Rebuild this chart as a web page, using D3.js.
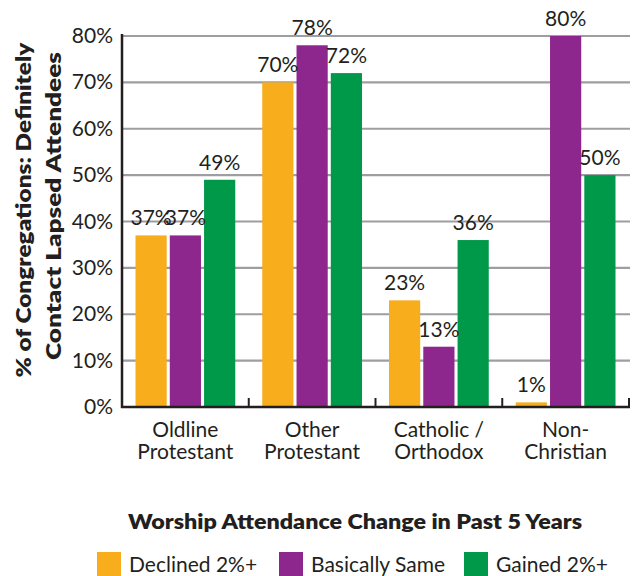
<!DOCTYPE html>
<html>
<head>
<meta charset="utf-8">
<script src="https://cdn.jsdelivr.net/npm/d3@7"></script>
<style>
  body { margin: 0; background: #fff; }
  svg text { font-family: Lato, "Open Sans", sans-serif; fill: #231f20; }
</style>
</head>
<body>
<div id="chart"></div>
<script>
const categories = [['Oldline', 'Protestant'], ['Other', 'Protestant'], ['Catholic /', 'Orthodox'], ['Non-', 'Christian']];
const seriesNames = ['Declined 2%+', 'Basically Same', 'Gained 2%+'];
const declined = [37, 70, 23, 1];
const same = [37, 78, 13, 80];
const gained = [49, 72, 36, 50];
const yTicks = [0, 10, 20, 30, 40, 50, 60, 70, 80];
const colors = ['#f8ad1d', '#8e278d', '#009849'];

const width = 640, height = 576;
const plotLeft = 122, plotRight = 629, plotTop = 36, plotBottom = 407;

const svg = d3.select('#chart').append('svg')
  .attr('width', width)
  .attr('height', height);

const x0 = d3.scaleBand()
  .domain(d3.range(categories.length))
  .range([plotLeft, plotRight])
  .paddingInner(0)
  .paddingOuter(0);

const x1 = d3.scaleBand()
  .domain(d3.range(seriesNames.length))
  .range([13.5, x0.bandwidth() - 13.5])
  .paddingInner(0.09);

const y = d3.scaleLinear()
  .domain([0, 80])
  .range([plotBottom, plotTop]);

// gridlines
svg.append('g')
  .selectAll('line')
  .data(yTicks.slice(1))
  .enter()
  .append('line')
  .attr('x1', plotLeft)
  .attr('x2', plotRight + 1)
  .attr('y1', d => y(d))
  .attr('y2', d => y(d))
  .attr('stroke', '#9d9ea1')
  .attr('stroke-width', 2.2);

// y tick labels
svg.append('g')
  .selectAll('text')
  .data(yTicks)
  .enter()
  .append('text')
  .attr('x', 113)
  .attr('y', d => y(d) + 7)
  .attr('text-anchor', 'end')
  .style('font-size', '21px')
  .text(d => d + '%');

// bars
const series = [declined, same, gained];
const groups = svg.append('g')
  .selectAll('g')
  .data(categories)
  .enter()
  .append('g')
  .attr('transform', (d, i) => 'translate(' + x0(i) + ',0)');

groups.selectAll('rect')
  .data((d, i) => series.map((s, j) => ({ j: j, v: s[i] })))
  .enter()
  .append('rect')
  .attr('x', d => x1(d.j))
  .attr('y', d => y(d.v))
  .attr('width', x1.bandwidth())
  .attr('height', d => plotBottom - y(d.v))
  .attr('fill', d => colors[d.j]);

groups.selectAll('text.val')
  .data((d, i) => series.map((s, j) => ({ j: j, v: s[i] })))
  .enter()
  .append('text')
  .attr('class', 'val')
  .attr('x', d => x1(d.j) + x1.bandwidth() / 2)
  .attr('y', d => y(d.v) - 10)
  .attr('text-anchor', 'middle')
  .style('font-size', '21px')
  .text(d => d.v + '%');

// axes lines
svg.append('line')
  .attr('x1', plotLeft).attr('x2', plotLeft)
  .attr('y1', plotTop - 2).attr('y2', plotBottom + 1)
  .attr('stroke', '#231f20').attr('stroke-width', 2.5);
svg.append('line')
  .attr('x1', plotLeft - 1).attr('x2', plotRight + 1)
  .attr('y1', plotBottom).attr('y2', plotBottom)
  .attr('stroke', '#231f20').attr('stroke-width', 2.5);

// category ticks
svg.append('g')
  .selectAll('line')
  .data(d3.range(1, categories.length + 1))
  .enter()
  .append('line')
  .attr('x1', d => d < categories.length ? x0(d) : plotRight)
  .attr('x2', d => d < categories.length ? x0(d) : plotRight)
  .attr('y1', plotBottom)
  .attr('y2', plotBottom - 9)
  .attr('stroke', '#231f20')
  .attr('stroke-width', 2);

// category labels
const catLabels = svg.append('g')
  .selectAll('text')
  .data(categories)
  .enter()
  .append('text')
  .attr('x', (d, i) => x0(i) + x0.bandwidth() / 2)
  .attr('y', 437)
  .attr('text-anchor', 'middle')
  .style('font-size', '21px');
catLabels.append('tspan')
  .attr('x', (d, i) => x0(i) + x0.bandwidth() / 2)
  .text(d => d[0]);
catLabels.append('tspan')
  .attr('x', (d, i) => x0(i) + x0.bandwidth() / 2)
  .attr('dy', 22)
  .text(d => d[1]);

// y axis title
const yTitle = svg.append('g')
  .attr('transform', 'translate(0,210) rotate(-90)');
yTitle.append('text')
  .attr('x', 0).attr('y', 31)
  .attr('text-anchor', 'middle')
  .attr('textLength', 335)
  .attr('lengthAdjust', 'spacingAndGlyphs')
  .style('font-size', '21px')
  .style('font-weight', 800)
  .text('% of Congregations: Definitely');
yTitle.append('text')
  .attr('x', 4).attr('y', 61)
  .attr('text-anchor', 'middle')
  .attr('textLength', 308)
  .attr('lengthAdjust', 'spacingAndGlyphs')
  .style('font-size', '21px')
  .style('font-weight', 800)
  .text('Contact Lapsed Attendees');

// x axis title
svg.append('text')
  .attr('x', 355)
  .attr('y', 529)
  .attr('text-anchor', 'middle')
  .attr('textLength', 454)
  .attr('lengthAdjust', 'spacingAndGlyphs')
  .style('font-size', '21px')
  .style('font-weight', 800)
  .text('Worship Attendance Change in Past 5 Years');

// legend
const legendX = [97, 279, 464];
const legend = svg.append('g')
  .selectAll('g')
  .data(seriesNames)
  .enter()
  .append('g')
  .attr('transform', (d, i) => 'translate(' + legendX[i] + ',552)');
legend.append('rect')
  .attr('width', 24)
  .attr('height', 24)
  .attr('fill', (d, i) => colors[i]);
legend.append('text')
  .attr('x', 32)
  .attr('y', 20)
  .style('font-size', '21px')
  .text(d => d);
</script>
</body>
</html>
